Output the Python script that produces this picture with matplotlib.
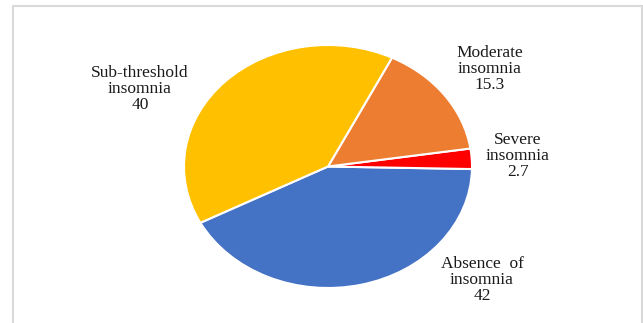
import matplotlib
matplotlib.use("Agg")
import matplotlib.pyplot as plt
from matplotlib.patches import Rectangle

categories = ["Absence  of\ninsomnia", "Severe\ninsomnia", "Moderate\ninsomnia", "Sub-threshold\ninsomnia"]
values = [42, 2.7, 15.3, 40]
value_labels = ["42", "2.7", "15.3", "40"]
colors = ["#4472C4", "#FF0000", "#ED7D31", "#FFC000"]

W, H = 643, 323
fig = plt.figure(figsize=(W / 100, H / 100), dpi=100)
fig.patch.set_facecolor("white")

# outer frame
fig.patches.append(Rectangle((12.5 / W, -0.05), (641.5 - 12.5) / W, (H - 6) / H + 0.05,
                             transform=fig.transFigure, fill=False,
                             edgecolor="#d9d9d9", linewidth=1.5))

cx, cy, rx, ry = 328, 166.5, 144, 121.5
ax = fig.add_axes([(cx - rx) / W, (H - cy - ry) / H, 2 * rx / W, 2 * ry / H])
ax.pie(values, colors=colors, startangle=-152.4, counterclock=True,
       wedgeprops=dict(edgecolor="white", linewidth=1.5), radius=1)
ax.set_aspect("auto")
ax.set_xlim(-1, 1)
ax.set_ylim(-1, 1)
ax.axis("off")

label_pos = [(482, 280), (518, 156), (490, 69), (140, 89)]
for cat, val, (px, py) in zip(categories, value_labels, label_pos):
    fig.text(px / W, 1 - py / H, cat + "\n" + val, ha="center", va="center",
             fontsize=12.5, family="Liberation Serif", color="#1a1a1a",
             linespacing=1.0)

fig.savefig("out.png", dpi=100)
